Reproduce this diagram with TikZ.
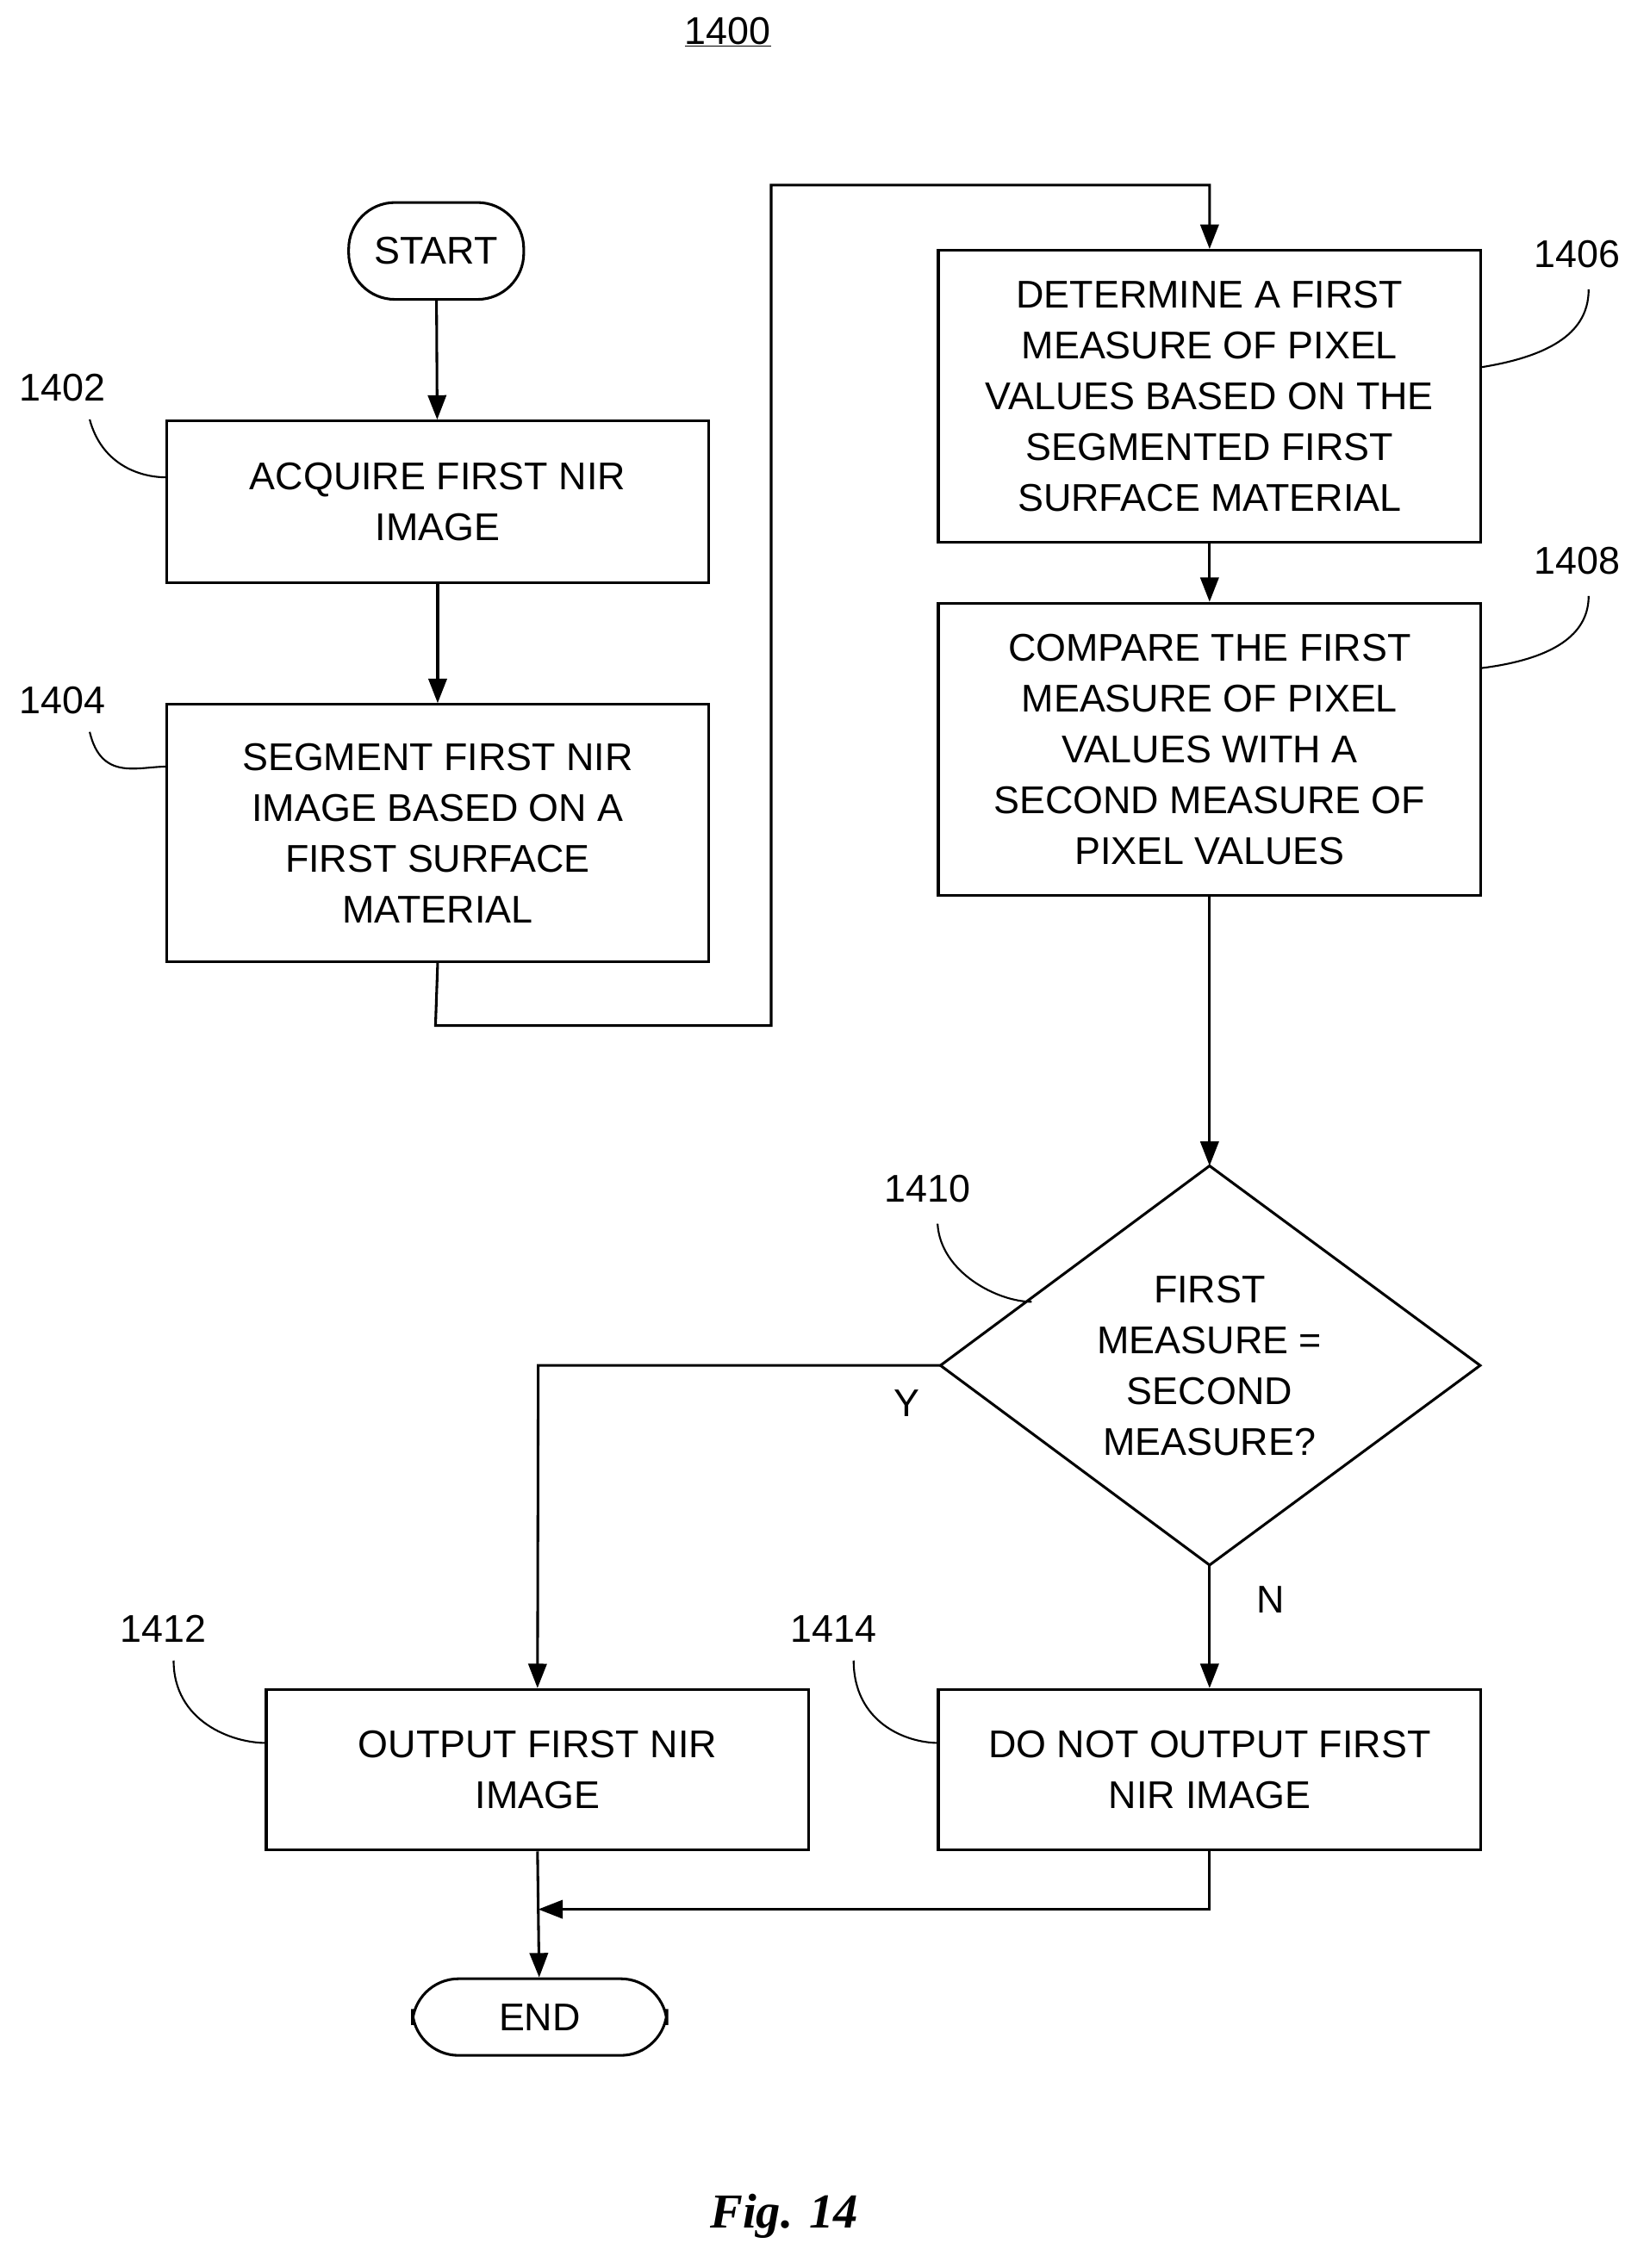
\documentclass[tikz,border=0pt]{standalone}
\usepackage{fontspec}
\setmainfont{Liberation Sans}
\newfontfamily\figfont{Liberation Serif}
\usetikzlibrary{shapes.geometric,arrows.meta}
\begin{document}
\begin{tikzpicture}[x=0.05cm,y=-0.05cm,line width=2.6pt,
  txt/.style={font=\fontsize{38}{50}\selectfont,align=center},
  box/.style={draw,txt,minimum width=18.75cm,inner sep=0pt},
  term/.style={draw,txt,rounded corners=1.6cm,inner sep=0pt},
  lab/.style={font=\fontsize{38}{46}\selectfont},
  arr/.style={-{Triangle[length=24pt,width=18pt]}},
  lead/.style={line width=1.8pt}]
\useasboundingbox (0,0) rectangle (1140,1568);
\node[lab] (t1400) at (503,22) {\underline{1400}};
\node[term,minimum width=6.05cm,minimum height=3.35cm] (start) at (301.5,173.5) {START};
\node[box,minimum height=5.6cm] (b1402) at (302.5,347) {ACQUIRE FIRST NIR\\IMAGE};
\node[box,minimum height=8.9cm] (b1404) at (302.5,576) {SEGMENT FIRST NIR\\IMAGE BASED ON A\\FIRST SURFACE\\MATERIAL};
\node[box,minimum height=10.1cm] (b1406) at (836,274) {DETERMINE A FIRST\\MEASURE OF PIXEL\\VALUES BASED ON THE\\SEGMENTED FIRST\\SURFACE MATERIAL};
\node[box,minimum height=10.1cm] (b1408) at (836,518) {COMPARE THE FIRST\\MEASURE OF PIXEL\\VALUES WITH A\\SECOND MEASURE OF\\PIXEL VALUES};
\coordinate (dt) at (836,806); \coordinate (db) at (836,1082);
\coordinate (dl) at (650,944); \coordinate (dr) at (1023,944);
\draw (dt) -- (dr) -- (db) -- (dl) -- cycle;
\node[txt] (d1410) at (836,944) {FIRST\\MEASURE =\\SECOND\\MEASURE?};
\node[box,minimum height=5.55cm] (b1412) at (371.5,1223.5) {OUTPUT FIRST NIR\\IMAGE};
\node[box,minimum height=5.55cm] (b1414) at (836,1223.5) {DO NOT OUTPUT FIRST\\NIR IMAGE};
\node[term,minimum width=8.8cm,minimum height=2.65cm] (end) at (373,1394.5) {END};
\draw[arr] (start) -- (b1402);
\draw[arr] (b1402) -- (b1404);
\coordinate (c1) at (301,709); \coordinate (c2) at (533,709); \coordinate (c3) at (533,128); \coordinate (c4) at (836,128);
\draw[arr] (b1404.south) -- (c1) -- (c2) -- (c3) -- (c4) -- (b1406.north);
\draw[arr] (b1406) -- (b1408);
\draw[arr] (b1408) -- (dt);
\coordinate (yc) at (372,944);
\draw[arr] (dl) -- (yc) -- (b1412.north);
\draw[arr] (db) -- (b1414);
\node[lab] (ly) at (627,970) {Y};
\node[lab] (ln) at (878,1106) {N};
\draw[arr] (b1412.south) -- (end);
\coordinate (m1) at (836,1320); \coordinate (m2) at (372,1320);
\draw[arr] (b1414.south) -- (m1) -- (m2);
\node[lab] (l1402) at (43,268) {1402};
\node[lab] (l1404) at (43,484) {1404};
\node[lab] (l1406) at (1090,176) {1406};
\node[lab] (l1408) at (1090,388) {1408};
\node[lab] (l1410) at (641,822) {1410};
\node[lab] (l1412) at (113,1126) {1412};
\node[lab] (l1414) at (576,1126) {1414};
\draw[lead] (62,290) .. controls (70,320) and (95,330) .. (115,330);
\draw[lead] (62,506) .. controls (70,540) and (95,530) .. (115,530);
\draw[lead] (1023,254) .. controls (1080,245) and (1098,225) .. (1098,200);
\draw[lead] (1023,462) .. controls (1080,455) and (1098,435) .. (1098,412);
\draw[lead] (648,846) .. controls (650,880) and (690,900) .. (713,900);
\draw[lead] (120,1148) .. controls (120,1190) and (160,1205) .. (184,1205);
\draw[lead] (590,1148) .. controls (590,1190) and (625,1205) .. (649,1205);
\node[font=\figfont\bfseries\itshape\fontsize{48}{56}\selectfont] (fig) at (542,1532) {Fig. 14};
\end{tikzpicture}
\end{document}
